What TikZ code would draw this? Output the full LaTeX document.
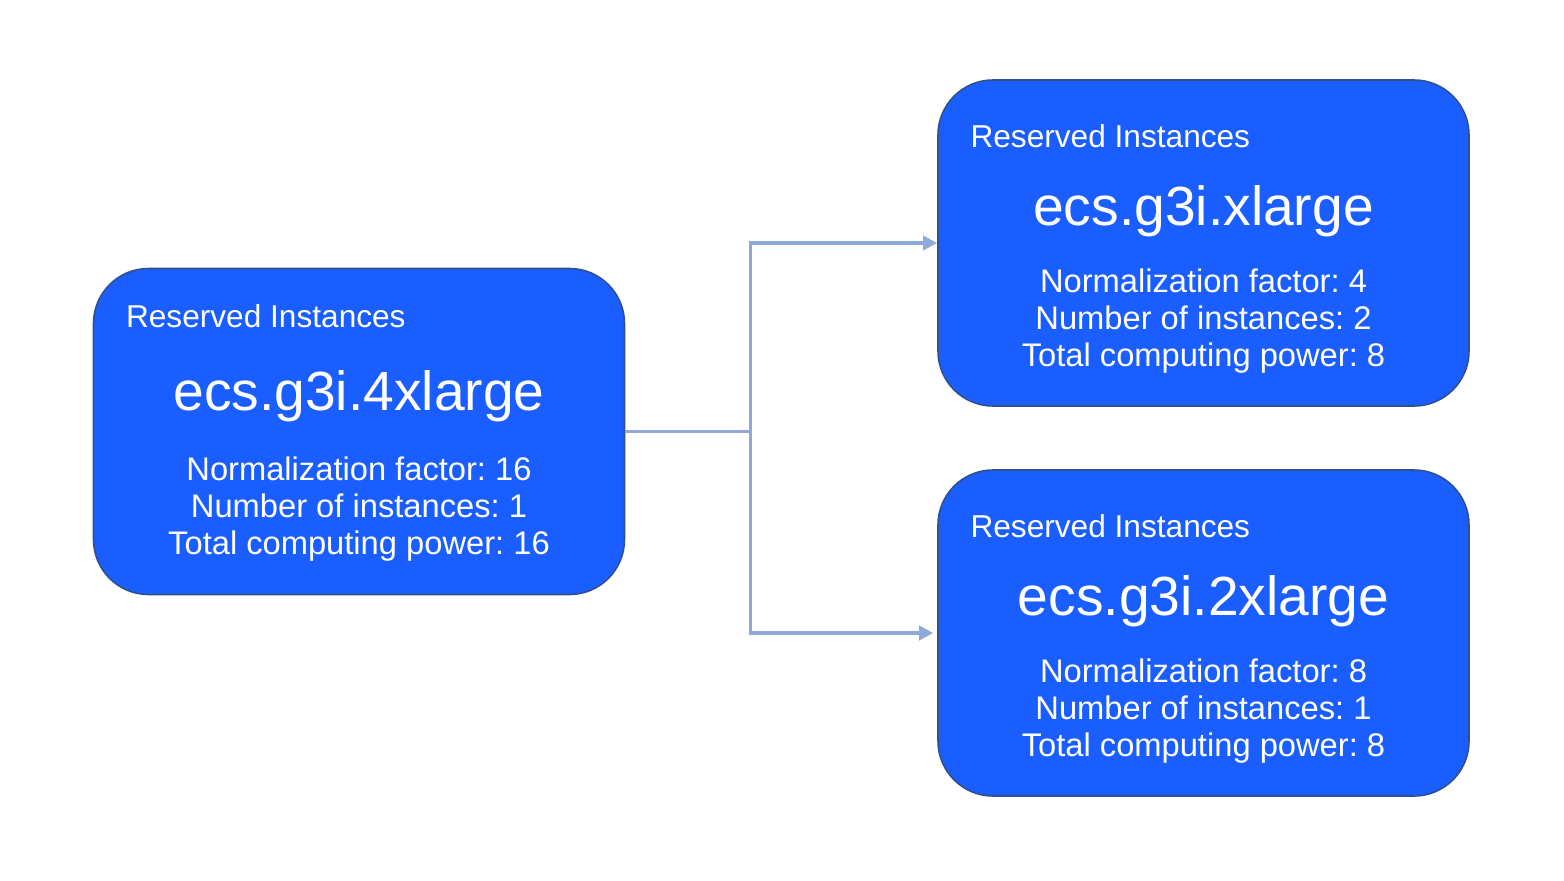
\documentclass[tikz,border=0pt]{standalone}
\usepackage{fontspec}
\setmainfont{Liberation Sans}
\frenchspacing
\usetikzlibrary{positioning, arrows.meta}

\definecolor{riblue}{RGB}{26,94,255}
\definecolor{riedge}{RGB}{47,79,143}
\definecolor{rilink}{RGB}{142,170,219}

\tikzset{
    ribox/.style={draw=riedge, line width=0.9pt, fill=riblue, rounded corners=1.1cm,
        minimum width=10.62cm, minimum height=6.52cm},
    ritag/.style={text=white, font=\fontsize{18}{21}\selectfont, inner sep=0pt},
    riname/.style={text=white, font=\fontsize{31.4}{36}\selectfont, inner sep=0pt},
    ristats/.style={text=white, font=\fontsize{18.6}{21}\selectfont, align=center, inner sep=0pt},
    rilink/.style={draw=rilink, line width=2pt},
    riarrow/.style={rilink, -{Triangle[length=0.28cm, width=0.28cm]}}
}

\begin{document}
\begin{tikzpicture}
    % Fix the page to the size of the reference
    \useasboundingbox (0,0) rectangle (31.28,-17.6);

    % The reserved instance that is split
    \node[ribox] (g4x) at (7.18,-8.63) {};
    \node[ritag, anchor=west] at ([xshift=0.66cm, yshift=-0.96cm]g4x.north west) {Reserved Instances};
    \node[riname] at ([yshift=-2.58cm]g4x.north) {ecs.g3i.4xlarge};
    \node[ristats] at ([yshift=-4.82cm]g4x.north) {Normalization factor: 16\\Number of instances: 1\\Total computing power: 16};

    % The two reserved instances that it is split into
    \node[ribox] (g1x) at (24.07,-4.86) {};
    \node[ritag, anchor=west] at ([xshift=0.66cm, yshift=-1.14cm]g1x.north west) {Reserved Instances};
    \node[riname] at ([yshift=-2.64cm]g1x.north) {ecs.g3i.xlarge};
    \node[ristats] at ([yshift=-4.84cm]g1x.north) {Normalization factor: 4\\Number of instances: 2\\Total computing power: 8};

    \node[ribox] (g2x) at (24.07,-12.66) {};
    \node[ritag, anchor=west] at ([xshift=0.66cm, yshift=-1.14cm]g2x.north west) {Reserved Instances};
    \node[riname] at ([yshift=-2.64cm]g2x.north) {ecs.g3i.2xlarge};
    \node[ristats] at ([yshift=-4.84cm]g2x.north) {Normalization factor: 8\\Number of instances: 1\\Total computing power: 8};

    % Connectors
    \draw[rilink] (g4x.east) -- ++(2.5,0) coordinate (fork);
    \draw[riarrow] (fork) |- (g1x.west);
    \draw[riarrow] (fork) |- ([xshift=-0.08cm]g2x.west);
\end{tikzpicture}
\end{document}
